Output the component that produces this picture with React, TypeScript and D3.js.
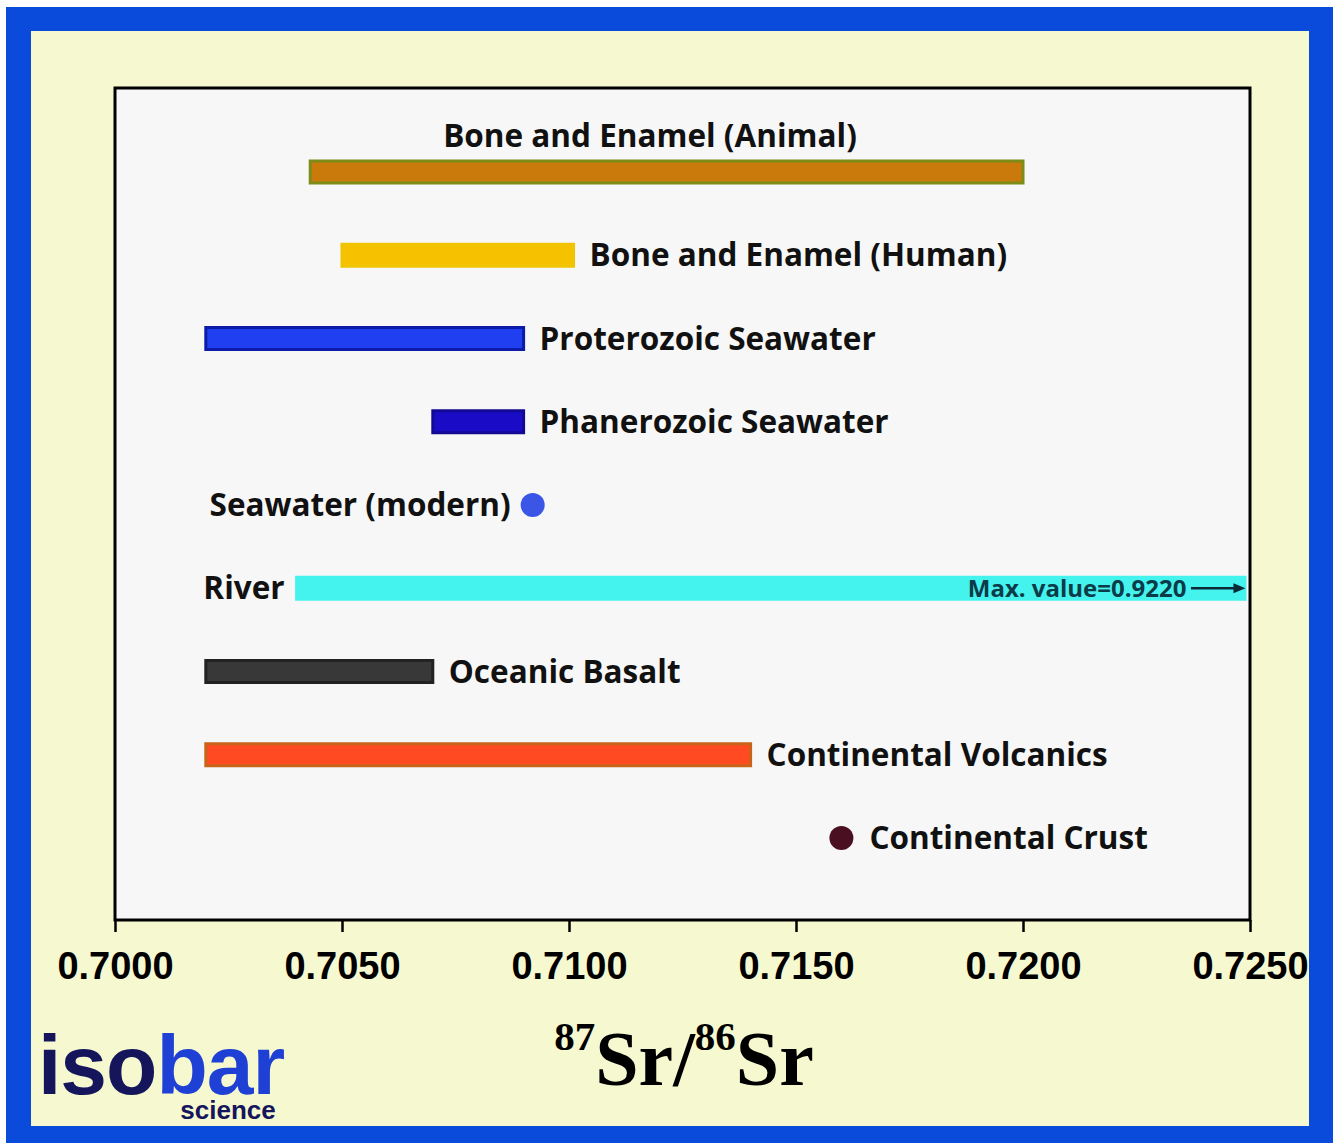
import { axisBottom, format, scaleLinear, scalePoint, select } from 'd3';
import type { ScaleLinear } from 'd3';
import { useEffect, useRef } from 'react';

// reservoirs, top to bottom
const categories = [
  'Bone and Enamel (Animal)',
  'Bone and Enamel (Human)',
  'Proterozoic Seawater',
  'Phanerozoic Seawater',
  'Seawater (modern)',
  'River',
  'Oceanic Basalt',
  'Continental Volcanics',
  'Continental Crust',
];

// 87Sr/86Sr ranges (a single value when min === max)
const rangeMin = [0.7043, 0.705, 0.702, 0.707, 0.7092, 0.704, 0.702, 0.702, 0.716];
const rangeMax = [0.72, 0.7101, 0.709, 0.709, 0.7092, 0.922, 0.707, 0.714, 0.716];

const tickValues = [0.7, 0.705, 0.71, 0.715, 0.72, 0.725];
const riverNote = 'Max. value=0.9220';

const fills = ['#c97a0a', '#f6c200', '#1f3ff0', '#1a0cc6', '#3b55e6', '#44f3ee', '#383838', '#ff4a22', '#4a1022'];
const strokes = ['#7d8c18', '#f0c400', '#0c1ca8', '#120894', '#3b55e6', '#44f3ee', '#222222', '#c8641a', '#4a1022'];
const labelSide = ['above', 'right', 'right', 'right', 'left', 'left', 'right', 'right', 'right'];

const W = 1333;
const H = 1143;
const plot = { left: 115, top: 88, right: 1250, bottom: 920 };
const labelFont = '"Open Sans", Lato, sans-serif';

const AxisBottom = ({ scale }: { scale: ScaleLinear<number, number> }) => {
  const ref = useRef<SVGGElement>(null);

  useEffect(() => {
    if (!ref.current) return;
    const g = select(ref.current);
    g.call(axisBottom(scale).tickValues(tickValues).tickFormat(format('.4f')).tickSize(12).tickPadding(20));
    g.select('.domain').remove();
    g.selectAll('line').attr('stroke', '#000').attr('stroke-width', 2.5);
    g.selectAll('text')
      .attr('fill', '#000')
      .attr('font-family', '"Liberation Sans", Arial, sans-serif')
      .attr('font-weight', 'bold')
      .attr('font-size', 38);
  }, [scale]);

  return <g ref={ref} transform={`translate(0, ${plot.bottom})`} />;
};

export default function App() {
  const x = scaleLinear().domain([0.7, 0.725]).range([plot.left, plot.right]).clamp(true);
  const y = scalePoint<string>().domain(categories).range([172, 838]);

  return (
    <svg width={W} height={H} style={{ position: 'absolute', left: 0, top: 0 }}>
      <rect x={0} y={0} width={W} height={H} fill="#ffffff" />
      <rect x={6} y={7} width={W - 6} height={H - 7} fill="#0a4bdc" />
      <rect x={31} y={31} width={1278} height={1095} fill="#f6f9d0" />

      <rect
        x={plot.left}
        y={plot.top}
        width={plot.right - plot.left}
        height={plot.bottom - plot.top}
        fill="#f7f7f7"
        stroke="#000"
        strokeWidth={3}
      />

      {categories.map((c, i) => {
        const cy = y(c) ?? 0;
        const x0 = x(rangeMin[i]);
        const x1 = x(rangeMax[i]);
        const isDot = rangeMin[i] === rangeMax[i];
        const side = labelSide[i];
        const barH = 22;
        let lx = x1 + 16;
        let ly = cy;
        let anchor = 'start';
        if (isDot) lx = x1 + 28;
        if (side === 'left') {
          lx = isDot ? x0 - 22 : x0 - 12;
          anchor = 'end';
        }
        if (side === 'above') {
          lx = 650;
          ly = cy - 36;
          anchor = 'middle';
        }
        return (
          <g key={c}>
            {isDot ? (
              <circle cx={x0} cy={cy} r={12} fill={fills[i]} />
            ) : (
              <rect
                x={x0}
                y={cy - barH / 2}
                width={Math.max(0, x1 - x0 - (rangeMax[i] > 0.725 ? 5 : 0))}
                height={barH}
                fill={fills[i]}
                stroke={strokes[i]}
                strokeWidth={3}
              />
            )}
            <text
              x={lx}
              y={ly}
              dy="0.35em"
              textAnchor={anchor}
              fontFamily={labelFont}
              fontWeight="bold"
              fontSize={31.5}
              fill="#111"
            >
              {c}
            </text>
            {rangeMax[i] > 0.725 && (
              <g>
                <text
                  x={x(0.7236)}
                  y={cy}
                  dy="0.35em"
                  textAnchor="end"
                  fontFamily={labelFont}
                  fontWeight="bold"
                  fontSize={24}
                  fill="#0b3b48"
                >
                  {riverNote}
                </text>
                <line x1={x(0.7237)} x2={x(0.7249) - 8} y1={cy} y2={cy} stroke="#0b2b38" strokeWidth={2.5} />
                <path d={`M${x(0.7249)},${cy} l-12,-5 v10 z`} fill="#0b2b38" />
              </g>
            )}
          </g>
        );
      })}

      <AxisBottom scale={x} />

      <text
        x={684}
        y={1085}
        textAnchor="middle"
        fontFamily='"Liberation Serif", "Times New Roman", serif'
        fontWeight="bold"
        fontSize={78}
        fill="#000"
      >
        <tspan fontSize={41} dy={-35}>87</tspan>
        <tspan dy={35}>Sr/</tspan>
        <tspan fontSize={41} dy={-35}>86</tspan>
        <tspan dy={35}>Sr</tspan>
      </text>

      <text
        x={38}
        y={1094}
        fontFamily='"Liberation Sans", Arial, sans-serif'
        fontWeight="bold"
        fontSize={84}
        letterSpacing={-1}
      >
        <tspan fill="#15155c">iso</tspan>
        <tspan fill="#1f40d4">bar</tspan>
      </text>
      <text
        x={228}
        y={1119}
        textAnchor="middle"
        fontFamily='"Liberation Sans", Arial, sans-serif'
        fontWeight="bold"
        fontSize={26}
        fill="#15155c"
      >
        science
      </text>
    </svg>
  );
}
